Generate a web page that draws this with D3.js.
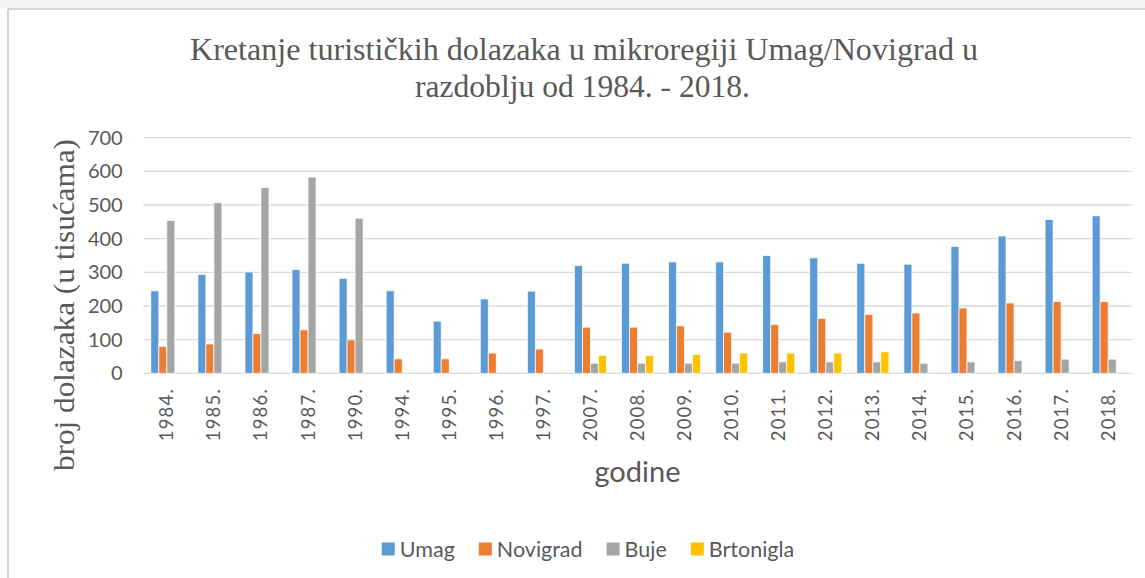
<!DOCTYPE html>
<html>
<head>
<meta charset="utf-8">
<script src="https://cdn.jsdelivr.net/npm/d3@7"></script>
<style>
	body { margin: 0; background: #fff; }
	svg { display: block; }
</style>
</head>
<body>
<svg id="chart" width="1145" height="578"></svg>
<script>
'use strict';

// godine (kategorije)
var arrayYears = ['1984.', '1985.', '1986.', '1987.', '1990.', '1994.', '1995.', '1996.', '1997.', '2007.', '2008.',
	'2009.', '2010.', '2011.', '2012.', '2013.', '2014.', '2015.', '2016.', '2017.', '2018.'];

// broj dolazaka u tisucama
var arrayUmag = [245, 294, 301, 308, 282, 245, 155, 221, 244, 320, 327, 331, 331, 350, 343, 327, 324, 377, 408, 457, 468];
var arrayNovigrad = [80, 87, 118, 129, 99, 43, 43, 60, 72, 137, 137, 141, 122, 145, 163, 175, 179, 194, 209, 213, 213];
var arrayBuje = [454, 507, 552, 583, 461, null, null, null, null, 30, 30, 30, 30, 34, 34, 34, 30, 34, 38, 42, 42];
var arrayBrtonigla = [null, null, null, null, null, null, null, null, null, 53, 53, 56, 60, 60, 60, 64, null, null, null, null, null];

var arraySeriesNames = ['Umag', 'Novigrad', 'Buje', 'Brtonigla'];
var arraySeriesColors = ['#5B9BD5', '#ED7D31', '#A5A5A5', '#FFC000'];
var arrayYTicks = [0, 100, 200, 300, 400, 500, 600, 700];

var strTitle1 = 'Kretanje turističkih  dolazaka u mikroregiji Umag/Novigrad  u';
var strTitle2 = 'razdoblju od 1984. - 2018.';
var strYTitle = 'broj dolazaka (u tisućama)';
var strXTitle = 'godine';

function DrawChart(selector)
{
	var svg = d3.select(selector);
	var arraySeries = [arrayUmag, arrayNovigrad, arrayBuje, arrayBrtonigla];

	var nLeft = 143.3, nRight = 1131.7, nTop = 137.7, nBottom = 373.3;
	var strTextColor = '#595959';
	var strGridColor = '#d9d9d9';
	var strSerif = '"Liberation Serif", "Times New Roman", serif';

	// okvir
	svg.append('rect').attr('x', 0).attr('y', 0).attr('width', 1145).attr('height', 578).attr('fill', '#fff');
	svg.append('rect').attr('x', 0).attr('y', 0).attr('width', 1145).attr('height', 8).attr('fill', '#f4f4f4');
	svg.append('line').attr('x1', 8).attr('x2', 1145).attr('y1', 9).attr('y2', 9)
		.attr('stroke', '#d4d4d4').attr('stroke-width', 2);
	svg.append('line').attr('x1', 8).attr('x2', 8).attr('y1', 9).attr('y2', 578)
		.attr('stroke', '#d4d4d4').attr('stroke-width', 2);

	var xScale = d3.scaleBand()
		.domain(arrayYears)
		.range([nLeft, nRight])
		.padding(0);

	var nStep = xScale.bandwidth();
	var xInner = d3.scaleBand()
		.domain(d3.range(arraySeries.length))
		.range([nStep * 0.16, nStep * 0.84])
		.padding(0);

	var yScale = d3.scaleLinear()
		.domain([0, 700])
		.range([nBottom, nTop]);

	// mreza
	svg.append('g').selectAll('line')
		.data(arrayYTicks)
		.enter()
		.append('line')
		.attr('x1', nLeft)
		.attr('x2', nRight)
		.attr('y1', function(d) { return yScale(d); })
		.attr('y2', function(d) { return yScale(d); })
		.attr('stroke', strGridColor)
		.attr('stroke-width', 1.3);

	// y os
	var yAxis = d3.axisLeft(yScale).tickValues(arrayYTicks).tickSize(0).tickPadding(0);
	var gY = svg.append('g').attr('transform', 'translate(' + 122.7 + ',0)').call(yAxis);
	gY.select('.domain').remove();
	gY.selectAll('text')
		.attr('fill', strTextColor)
		.style('font-family', 'Lato')
		.style('font-size', '20px');

	// stupci
	var groups = svg.append('g').selectAll('g')
		.data(arraySeries)
		.enter()
		.append('g')
		.attr('fill', function(d, i) { return arraySeriesColors[i]; });

	groups.each(function(arrayValues, nSeries) {
		d3.select(this).selectAll('rect')
			.data(arrayValues.map(function(v, i) { return { year: arrayYears[i], value: v }; })
				.filter(function(d) { return d.value != null; }))
			.enter()
			.append('rect')
			.attr('x', function(d) { return xScale(d.year) + xInner(nSeries); })
			.attr('y', function(d) { return yScale(d.value); })
			.attr('width', xInner.bandwidth())
			.attr('height', function(d) { return yScale(0) - yScale(d.value); })
			.attr('stroke', '#ffffff')
			.attr('stroke-opacity', 0.8)
			.attr('stroke-width', 0.9);
	});

	// x os
	var xAxis = d3.axisBottom(xScale).tickSize(0).tickPadding(0);
	var gX = svg.append('g').attr('transform', 'translate(0,' + 388 + ')').call(xAxis);
	gX.select('.domain').remove();
	gX.selectAll('text')
		.attr('fill', strTextColor)
		.attr('transform', 'rotate(-90)')
		.attr('x', 0)
		.attr('y', 0)
		.attr('dy', '0.35em')
		.attr('text-anchor', 'end')
		.style('font-family', 'Lato')
		.style('font-size', '18.5px')
		.style('letter-spacing', '1.2px');

	// naslov
	var title = svg.append('g')
		.attr('fill', strTextColor)
		.style('font-family', strSerif)
		.style('font-size', '32px');
	title.append('text')
		.attr('x', 190).attr('y', 60)
		.attr('textLength', 788).attr('lengthAdjust', 'spacingAndGlyphs')
		.text(strTitle1);
	title.append('text')
		.attr('x', 415).attr('y', 97)
		.attr('textLength', 335).attr('lengthAdjust', 'spacingAndGlyphs')
		.text(strTitle2);

	// naslov y osi
	svg.append('text')
		.attr('transform', 'translate(74,' + 305 + ') rotate(-90)')
		.attr('text-anchor', 'middle')
		.attr('fill', strTextColor)
		.attr('textLength', 332).attr('lengthAdjust', 'spacingAndGlyphs')
		.style('font-family', strSerif)
		.style('font-size', '29px')
		.text(strYTitle);

	// naslov x osi
	svg.append('text')
		.attr('x', (nLeft + nRight) / 2)
		.attr('y', 482)
		.attr('text-anchor', 'middle')
		.attr('fill', strTextColor)
		.style('font-family', 'Lato')
		.style('font-size', '29px')
		.text(strXTitle);

	// legenda
	var legend = svg.append('g');
	var nX = 0;
	arraySeriesNames.forEach(function(strName, i) {
		var item = legend.append('g').attr('transform', 'translate(' + nX + ',0)');
		item.append('rect').attr('x', 0).attr('y', -6.5).attr('width', 13).attr('height', 13)
			.attr('fill', arraySeriesColors[i]);
		var t = item.append('text')
			.attr('x', 18).attr('y', 0).attr('dy', '0.35em')
			.attr('fill', strTextColor)
			.style('font-family', 'Lato')
			.style('font-size', '21.5px')
			.text(strName);
		nX += 18 + t.node().getComputedTextLength() + 24;
	});
	var nLegendWidth = nX - 24;
	legend.attr('transform', 'translate(' + (588 - nLegendWidth / 2) + ',' + 549 + ')');
}

DrawChart('#chart');
</script>
</body>
</html>
